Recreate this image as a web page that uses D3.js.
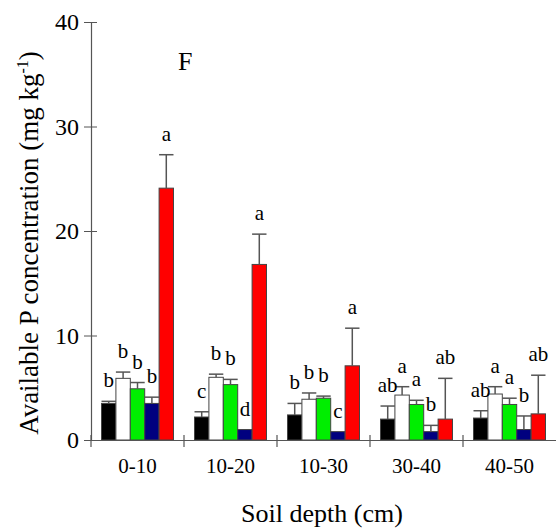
<!DOCTYPE html>
<html>
<head>
<meta charset="utf-8">
<script src="https://cdn.jsdelivr.net/npm/d3@7"></script>
<style>
  body { margin: 0; background: #fff; }
  text { font-family: "Liberation Serif", "DejaVu Serif", serif; fill: #000; }
</style>
</head>
<body>
<script>
// soil depth classes
var depths = ["0-10", "10-20", "10-30", "30-40", "40-50"];
// five treatments, drawn left to right in each group
var treatments = ["s1", "s2", "s3", "s4", "s5"];
var colors = ["#000000", "#ffffff", "#00ee00", "#00007f", "#ff0000"];

// mean available P (mg/kg), one array per treatment
var s1Mean = [3.5, 2.2, 2.4, 2.0, 2.1];
var s2Mean = [5.9, 6.0, 3.9, 4.3, 4.4];
var s3Mean = [4.9, 5.3, 4.0, 3.4, 3.4];
var s4Mean = [3.5, 1.0, 0.8, 0.8, 1.0];
var s5Mean = [24.1, 16.8, 7.1, 2.0, 2.5];

// standard errors
var s1Err = [0.2, 0.5, 1.1, 1.25, 0.7];
var s2Err = [0.6, 0.3, 0.6, 0.8, 0.7];
var s3Err = [0.6, 0.5, 0.2, 0.4, 0.6];
var s4Err = [0.6, 0, 0, 0.6, 1.3];
var s5Err = [3.2, 2.9, 3.6, 3.9, 3.7];

// significance letters
var s1Sig = ["b", "c", "b", "ab", "ab"];
var s2Sig = ["b", "b", "b", "a", "a"];
var s3Sig = ["b", "b", "b", "a", "a"];
var s4Sig = ["b", "d", "c", "b", "b"];
var s5Sig = ["a", "a", "a", "ab", "ab"];

var yTicks = [0, 10, 20, 30, 40];

var means = [s1Mean, s2Mean, s3Mean, s4Mean, s5Mean];
var errs = [s1Err, s2Err, s3Err, s4Err, s5Err];
var sigs = [s1Sig, s2Sig, s3Sig, s4Sig, s5Sig];

var data = [];
depths.forEach(function(d, i) {
  treatments.forEach(function(t, j) {
    data.push({depth: d, trt: t, k: j, mean: means[j][i], err: errs[j][i], sig: sigs[j][i]});
  });
});

var W = 556, H = 529;
var mLeft = 91, mRight = 556, mTop = 22, mBottom = 440;

var svg = d3.select("body").append("svg")
    .attr("width", W)
    .attr("height", H);

var x0 = d3.scaleBand().domain(depths).range([mLeft, mRight]).paddingInner(0).paddingOuter(0);
var x1 = d3.scaleBand().domain(treatments).range([0, x0.bandwidth()]).paddingInner(0).paddingOuter(0.73);
var y = d3.scaleLinear().domain([0, 40]).range([mBottom, mTop]);

var axisCol = "#555";

// bars
var g = svg.append("g");
g.selectAll("rect.bar")
    .data(data)
  .enter().append("rect")
    .attr("class", "bar")
    .attr("x", function(d) { return x0(d.depth) + x1(d.trt); })
    .attr("y", function(d) { return y(d.mean); })
    .attr("width", x1.bandwidth())
    .attr("height", function(d) { return mBottom - y(d.mean); })
    .attr("fill", function(d) { return colors[d.k]; })
    .attr("stroke", "#444")
    .attr("stroke-width", 1);

// error bars (upper only)
var eb = data.filter(function(d) { return d.err > 0; });
g.selectAll("line.err")
    .data(eb)
  .enter().append("line")
    .attr("x1", function(d) { return x0(d.depth) + x1(d.trt) + x1.bandwidth() / 2; })
    .attr("x2", function(d) { return x0(d.depth) + x1(d.trt) + x1.bandwidth() / 2; })
    .attr("y1", function(d) { return y(d.mean); })
    .attr("y2", function(d) { return y(d.mean + d.err); })
    .attr("stroke", axisCol)
    .attr("stroke-width", 1.5);
g.selectAll("line.cap")
    .data(eb)
  .enter().append("line")
    .attr("x1", function(d) { return x0(d.depth) + x1(d.trt); })
    .attr("x2", function(d) { return x0(d.depth) + x1(d.trt) + x1.bandwidth(); })
    .attr("y1", function(d) { return y(d.mean + d.err); })
    .attr("y2", function(d) { return y(d.mean + d.err); })
    .attr("stroke", axisCol)
    .attr("stroke-width", 1.5);

// letters
g.selectAll("text.sig")
    .data(data)
  .enter().append("text")
    .attr("x", function(d) { return x0(d.depth) + x1(d.trt) + x1.bandwidth() / 2; })
    .attr("y", function(d) { return y(d.mean + d.err) - 14; })
    .attr("text-anchor", "middle")
    .style("font-size", "21px")
    .text(function(d) { return d.sig; });

// Y axis
var yAxis = svg.append("g")
    .attr("transform", "translate(" + mLeft + ",0)")
    .call(d3.axisLeft(y).tickValues(yTicks).tickSize(7).tickPadding(5));
yAxis.select(".domain").attr("stroke", axisCol).attr("stroke-width", 1.2);
yAxis.selectAll(".tick line").attr("stroke", axisCol).attr("x2", 6).attr("x1", -7);
yAxis.selectAll(".tick text").style("font-size", "24px").attr("font-family", "Liberation Serif").attr("fill", "#000");

// X axis
var xAxis = svg.append("g")
    .attr("transform", "translate(0," + mBottom + ")")
    .call(d3.axisBottom(x0).tickSize(0).tickPadding(18));
xAxis.select(".domain").attr("stroke", axisCol).attr("stroke-width", 1.2);
xAxis.selectAll(".tick text").style("font-size", "21px").attr("font-family", "Liberation Serif").attr("fill", "#000");

// group separator ticks
var seps = depths.map(function(d) { return x0(d); });
xAxis.selectAll("line.sep")
    .data(seps)
  .enter().append("line")
    .attr("x1", function(d) { return d; })
    .attr("x2", function(d) { return d; })
    .attr("y1", -5)
    .attr("y2", 7)
    .attr("stroke", axisCol)
    .attr("stroke-width", 1.2);

// axis titles
svg.append("text")
    .attr("x", 322)
    .attr("y", 522)
    .attr("text-anchor", "middle")
    .style("font-size", "26px")
    .text("Soil depth (cm)");

var yt = svg.append("text")
    .attr("transform", "translate(38,243) rotate(-90)")
    .attr("text-anchor", "middle")
    .style("font-size", "27px");
yt.append("tspan").text("Available P concentration (mg kg");
yt.append("tspan").attr("dy", -10).style("font-size", "16px").text("-1");
yt.append("tspan").attr("dy", 10).text(")");

// panel label
svg.append("text")
    .attr("x", 178)
    .attr("y", 70)
    .style("font-size", "26px")
    .text("F");
</script>
</body>
</html>
